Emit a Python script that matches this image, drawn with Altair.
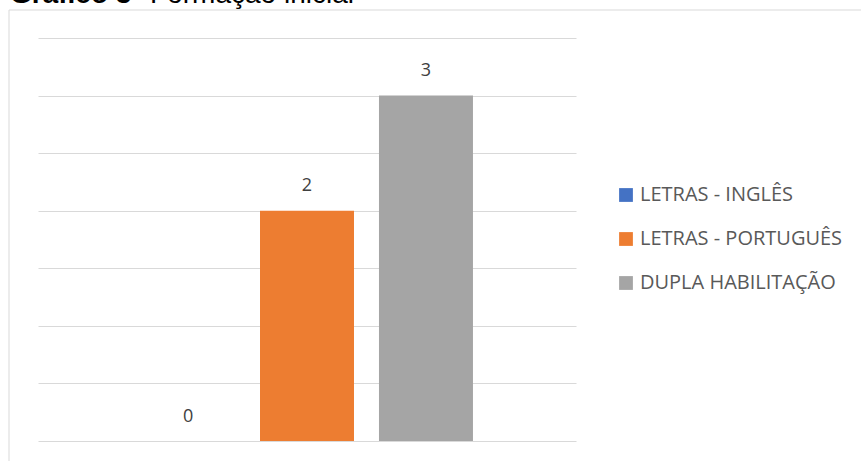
import altair as alt
import pandas as pd

# ---- data ----
series = ["LETRAS - INGLÊS", "LETRAS - PORTUGUÊS", "DUPLA HABILITAÇÃO"]
values = [0, 2, 3]
colors = ["#4472c4", "#ed7d31", "#a5a5a5"]
y_ticks = [0, 0.5, 1, 1.5, 2, 2.5, 3, 3.5]
title_bold = "Gráfico 3"
title_rest = " - Formação inicial"

df = pd.DataFrame({"serie": series, "valor": values})

W, H = 538, 403
FONT = "Open Sans"

x = alt.X("serie:N", sort=series, axis=None,
          scale=alt.Scale(paddingInner=0.21, paddingOuter=0.866))
y = alt.Y("valor:Q",
          scale=alt.Scale(domain=[0, 3.5], nice=False, zero=True),
          axis=alt.Axis(values=y_ticks, labels=False, ticks=False, domain=False,
                        grid=True, gridColor="#d9d9d9", gridWidth=1, title=None))

bars = alt.Chart(df).mark_bar().encode(
    x=x,
    y=y,
    color=alt.Color(
        "serie:N", sort=series,
        scale=alt.Scale(domain=series, range=colors),
        legend=alt.Legend(
            title=None, orient="none", legendX=578, legendY=147,
            symbolType="square", symbolSize=190, symbolStrokeWidth=0,
            symbolOpacity=1, labelFont=FONT, labelFontSize=20,
            labelColor="#595959", labelOffset=4, rowPadding=24, padding=0,
            labelLimit=400,
        ),
    ),
)

labels = alt.Chart(df).mark_text(
    dy=-19.5, baseline="alphabetic", font=FONT, fontSize=18, color="#404040"
).encode(x=x, y=y, text="valor:Q")

frame_df = pd.DataFrame({"k": [0]})
top_rule = alt.Chart(frame_df).mark_rule(color="#d9d9d9", strokeWidth=1).encode(
    x=alt.value(-29), x2=alt.value(900), y=alt.value(-28)
)
left_rule = alt.Chart(frame_df).mark_rule(color="#d9d9d9", strokeWidth=1).encode(
    x=alt.value(-29), y=alt.value(-28), y2=alt.value(500)
)

title_df = pd.DataFrame({"t1": [title_bold], "t2": [title_rest]})
t1 = alt.Chart(title_df).mark_text(
    align="left", baseline="alphabetic", font="Liberation Sans", fontSize=28,
    fontWeight="bold", color="#000000"
).encode(x=alt.value(-28), y=alt.value(-35), text="t1:N")
t2 = alt.Chart(title_df).mark_text(
    align="left", baseline="alphabetic", font="Liberation Sans", fontSize=28,
    color="#000000"
).encode(x=alt.value(95), y=alt.value(-35), text="t2:N")

chart = alt.layer(top_rule, left_rule, bars, labels, t1, t2).properties(
    width=W, height=H,
    autosize=alt.AutoSizeParams(type="none"),
    padding={"left": 38, "top": 38, "right": 285, "bottom": 20},
).configure_view(stroke=None).resolve_scale(color="independent")

chart.save("out.html", embed_options={"renderer": "svg", "actions": False})
